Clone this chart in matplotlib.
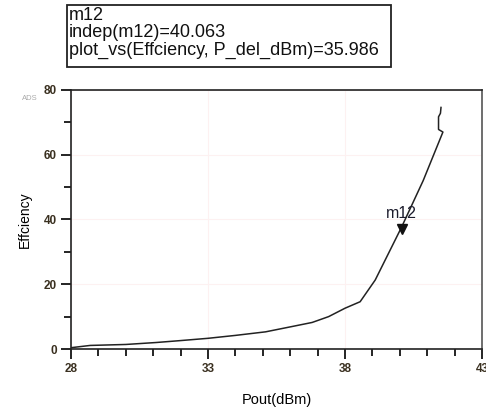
import matplotlib
matplotlib.use("Agg")
import matplotlib.pyplot as plt
from matplotlib.ticker import MultipleLocator
from matplotlib.patches import Rectangle
import matplotlib.transforms as mtransforms

pout = [28.0, 28.7, 30.0, 31.1, 32.0, 33.0, 34.0, 35.1, 36.1, 36.8, 37.4,
        38.0, 38.55, 39.1, 40.06, 40.85, 41.57, 41.41, 41.41, 41.48, 41.50]
eff = [0.4, 1.1, 1.4, 2.0, 2.6, 3.3, 4.2, 5.3, 7.0, 8.2, 10.0,
       12.6, 14.6, 21.3, 37.6, 52.0, 67.0, 67.8, 71.7, 72.8, 74.6]
x_ticks = [28, 33, 38, 43]
y_ticks = [0, 20, 40, 60, 80]

marker_x = 40.063
marker_y = 35.986
marker_name = "m12"
marker_lines = ["m12", "indep(m12)=40.063", "plot_vs(Effciency, P_del_dBm)=35.986"]

plt.rcParams['font.family'] = ['Liberation Sans', 'DejaVu Sans']

fig = plt.figure(figsize=(4.86, 4.07), dpi=100)
ax = fig.add_axes([0.146, 0.1425, 0.846, 0.6365])

ax.plot(pout, eff, color='#222222', lw=1.1)

ax.set_xlim(28, 43)
ax.set_ylim(0, 80)
ax.set_xticks(x_ticks)
ax.set_yticks(y_ticks)
ax.xaxis.set_minor_locator(MultipleLocator(1))
ax.yaxis.set_minor_locator(MultipleLocator(10))
ax.tick_params(which='major', length=7, width=1.2, direction='out', pad=3,
               labelsize=8.5, labelcolor='#3a3020')
ax.tick_params(which='minor', length=5, width=1.2, direction='out')
for lab in ax.get_xticklabels() + ax.get_yticklabels():
    lab.set_fontweight('bold')
ax.grid(True, which='major', color='#fdf1f1', lw=0.8)
for s in ax.spines.values():
    s.set_linewidth(1.2)
    s.set_color('#222222')
ax.spines['right'].set_color('#555555')

ax.set_xlabel('Pout(dBm)', fontsize=10.5, labelpad=13)
ax.set_ylabel('Effciency', fontsize=10, labelpad=9)

# marker
tr = mtransforms.offset_copy(ax.transData, fig=fig, x=0, y=3.5, units='dots')
ax.plot([marker_x], [marker_y], marker='v', ms=7, color='#111111', transform=tr)
ax.text(marker_x, marker_y, marker_name, transform=mtransforms.offset_copy(
    ax.transData, fig=fig, x=0, y=11, units='dots'),
    ha='center', va='bottom', fontsize=11.5, color='#1c1c2c')

fig.text(22 / 486, 1 - 98 / 407, 'ADS', fontsize=5.5, color='#aaaaaa',
         ha='left', va='center')

# marker readout box
fig.patches.append(Rectangle((67 / 486, 1 - 67 / 407), 324 / 486, 62 / 407,
                             transform=fig.transFigure, fill=False,
                             ec='#222222', lw=1.3))
for i, line in enumerate(marker_lines):
    fig.text(69 / 486, 1 - (15 + 17.5 * i) / 407, line, fontsize=13,
             ha='left', va='center', color='#111111')

fig.savefig('out.png', dpi=100)
